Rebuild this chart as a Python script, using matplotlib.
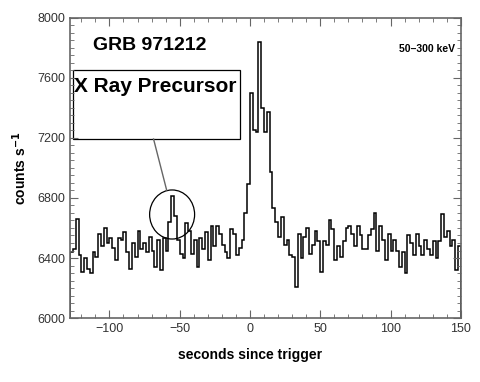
import numpy as np
import matplotlib
matplotlib.use("Agg")
import matplotlib.pyplot as plt
from matplotlib.patches import Ellipse, Rectangle

plt.rcParams['font.family'] = ['Liberation Sans', 'DejaVu Sans']

# light curve, 2 s bins starting at -128 s
bin_start = -128
bin_width = 2
counts = [
    # -128 .. -60
    6440, 6460, 6660, 6420, 6310, 6400, 6330, 6300, 6440, 6410,
    6560, 6480, 6600, 6500, 6530, 6470, 6390, 6530, 6520, 6570,
    6440, 6330, 6500, 6410, 6580, 6460, 6500, 6440, 6540, 6450,
    6340, 6520, 6320, 6530, 6450,
    # -58 .. -2
    6640, 6810, 6680, 6520, 6430, 6400, 6630, 6580, 6430, 6520,
    6340, 6530, 6460, 6570, 6390, 6610, 6480, 6610, 6560, 6490,
    6440, 6400, 6590, 6560, 6420, 6470, 6520, 6700, 6890,
    # 0 .. 32
    7500, 7250, 7240, 7840, 7400, 7240, 7370, 6970, 6730, 6640,
    6540, 6670, 6490, 6520, 6420, 6410, 6210,
    # 34 .. 148
    6560, 6400, 6540, 6600, 6430, 6490, 6580, 6510, 6310, 6510,
    6490, 6650, 6590, 6390, 6480, 6410, 6510, 6600, 6610, 6560,
    6480, 6610, 6550, 6460, 6460, 6550, 6590, 6700, 6450, 6610,
    6520, 6390, 6560, 6450, 6520, 6450, 6340, 6440, 6300, 6550,
    6500, 6420, 6560, 6480, 6420, 6520, 6460, 6420, 6510, 6400,
    6510, 6690, 6540, 6580, 6480, 6520, 6320, 6480,
]
edges = bin_start + bin_width * np.arange(len(counts) + 1)

fig = plt.figure(figsize=(4.8, 3.82), dpi=100)
ax = fig.add_axes([0.146, 0.1675, 0.814, 0.7855])

ax.stairs(counts, edges, color='black', lw=1.1)

ax.set_xlim(-128, 150)
ax.set_ylim(6000, 8000)
ax.set_xticks([-100, -50, 0, 50, 100, 150])
ax.set_xticks(np.arange(-120, 151, 10), minor=True)
ax.set_yticks([6000, 6400, 6800, 7200, 7600, 8000])
ax.set_yticks(np.arange(6000, 8001, 50), minor=True)
ax.tick_params(which='both', direction='in', top=True, right=True,
               color='#666666', labelsize=9, labelcolor='#333333')
ax.tick_params(which='major', length=6)
ax.tick_params(which='minor', length=3)
for s in ax.spines.values():
    s.set_color('#666666')
    s.set_linewidth(1.2)

# precursor annotation
ax.add_patch(Ellipse((-55.4, 6690), 32, 327, fill=False, color='black', lw=0.9))
ax.plot([-68.6, -59.3], [7193, 6853], color='#666666', lw=1.0)
ax.add_patch(Rectangle((-126, 7193), 119, 460, fill=False, color='black', lw=0.9))
ax.text(-125.5, 7545, 'X Ray Precursor', fontsize=15, fontweight='bold', va='center', ha='left')
ax.text(-111.5, 7815, 'GRB 971212', fontsize=14, fontweight='bold', va='center', ha='left')
ax.text(106, 7790, '50\u2013300 keV', fontsize=7.5, fontweight='bold', va='center', ha='left')

fig.text(250 / 480, 1 - 355 / 382, 'seconds since trigger', fontsize=10,
         fontweight='bold', ha='center', va='center')
fig.text(20 / 480, 1 - 168 / 382, 'counts s$^{\\mathbf{-1}}$', fontsize=10,
         fontweight='bold', ha='center', va='center', rotation=90)

fig.savefig('out.png', dpi=100)
